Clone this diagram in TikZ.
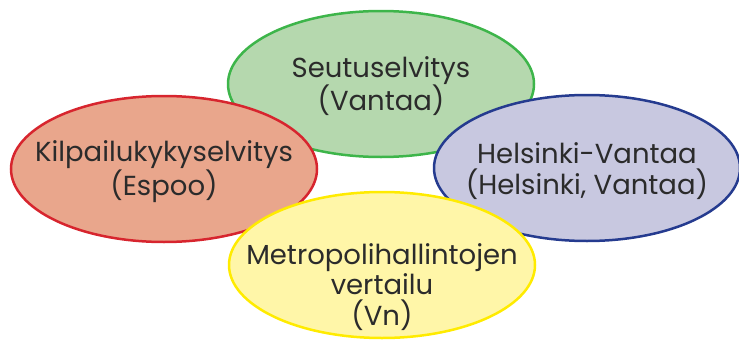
\documentclass[tikz,border=0pt]{standalone}
\usepackage{fontspec}
\setmainfont{Poppins}
\usetikzlibrary{shapes.geometric}

\definecolor{greenfill}{HTML}{B5D8AE}
\definecolor{greenline}{HTML}{3DB54A}
\definecolor{redfill}{HTML}{E9A68C}
\definecolor{redline}{HTML}{D7252E}
\definecolor{bluefill}{HTML}{C8C8E0}
\definecolor{blueline}{HTML}{253B8F}
\definecolor{yellowfill}{HTML}{FFF6A8}
\definecolor{yellowline}{HTML}{FFEB00}
\definecolor{textgray}{HTML}{2B2B2B}

\begin{document}
\begin{tikzpicture}[
        x=1pt, y=-1pt,
        study/.style={ellipse, draw, line width=2.5pt, minimum width=306pt, minimum height=146pt},
        caption/.style={align=center, text=textgray, inner sep=0pt, font=\fontsize{27.5}{30.5}\selectfont}
    ]
    \useasboundingbox (0,0) rectangle (739,340);

    % Ellipses
    \node (seutu)[study, fill=greenfill, draw=greenline] at (381,84) {};
    \node (kilpailu)[study, fill=redfill, draw=redline] at (164,169) {};
    \node (helsinki)[study, fill=bluefill, draw=blueline] at (587,168) {};
    \node (metro)[study, fill=yellowfill, draw=yellowline] at (382,265) {};

    % Texts
    \node (seututext)[caption] at ([yshift=-2pt]seutu.center) {Seutuselvitys\\(Vantaa)};
    \node (kilpailutext)[caption] at ([yshift=-3pt]kilpailu.center) {Kilpailukykyselvitys\\(Espoo)};
    \node (helsinkitext)[caption] at ([yshift=-3pt]helsinki.center) {Helsinki-Vantaa\\(Helsinki, Vantaa)};
    \node (metrotext)[caption] at ([yshift=-22pt]metro.center) {Metropolihallintojen\\vertailu\\(Vn)};

\end{tikzpicture}
\end{document}
